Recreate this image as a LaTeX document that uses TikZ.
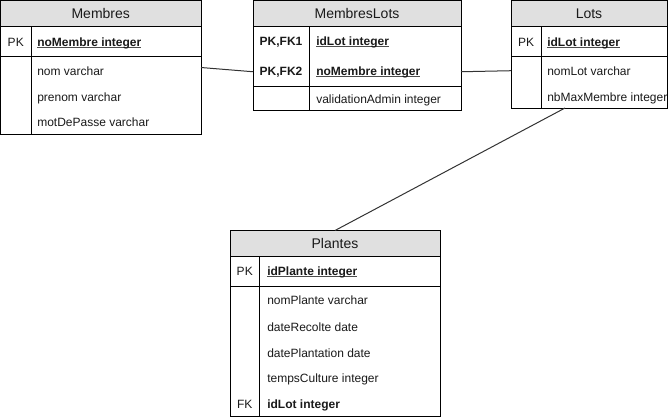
\documentclass[tikz,border=0pt]{standalone}
\usepackage{fontspec}
\setmainfont{Liberation Sans}
\definecolor{hdrgray}{HTML}{E0E0E0}
\definecolor{txt}{HTML}{1A1A1A}
\newcommand\ulx[1]{\setbox0\hbox{#1}\rlap{\color{black!70}\rule[-1.7pt]{\wd0}{0.6pt}}\box0}
\begin{document}
\begin{tikzpicture}[x=0.75pt,y=-0.75pt,
 tbl/.style={draw=black, line width=0.75pt, inner sep=0pt, outer sep=0pt, anchor=north west, fill=white},
 hdr/.style={draw=black, line width=0.75pt, fill=hdrgray, inner sep=0pt, outer sep=0pt, anchor=north west, font=\fontsize{10.5pt}{12pt}\selectfont, text=txt},
 row/.style={anchor=base west, inner sep=0pt, font=\fontsize{9pt}{11pt}\selectfont, text=txt},
 key/.style={anchor=base, inner sep=0pt, font=\fontsize{9pt}{11pt}\selectfont, text=txt},
 sep/.style={line width=0.75pt, draw=black},
 link/.style={line width=0.75pt, draw=black!80}]
\useasboundingbox (0,0) rectangle (671,419);

% ---------- Membres ----------
\node[tbl, minimum width=200.5*0.75pt, minimum height=134*0.75pt] (membres) at (0.5,0.5) {};
\node[hdr, minimum width=200.5*0.75pt, minimum height=26*0.75pt] (membresH) at (0.5,0.5) {Membres};
\draw[sep] (0.5,56.5) -- (201,56.5);
\draw[sep] (31,26.5) -- (31,134.5);
\node[key] (mk1) at (15.75,46) {PK};
\node[row] (mr0) at (37,46) {\ulx{\textbf{noMembre integer}}};
\node[row] (mr1) at (37,75) {nom varchar};
\node[row] (mr2) at (37,101) {prenom varchar};
\node[row] (mr3) at (37,126) {motDePasse varchar};

% ---------- MembresLots ----------
\node[tbl, minimum width=208*0.75pt, minimum height=110*0.75pt] (ml) at (253,0.5) {};
\node[hdr, minimum width=208*0.75pt, minimum height=26*0.75pt] (mlH) at (253,0.5) {MembresLots};
\draw[sep] (253,86.5) -- (461,86.5);
\draw[sep] (309,26.5) -- (309,110.5);
\node[key] (mlk1) at (281,45) {\textbf{PK,FK1}};
\node[key] (mlk2) at (281,75) {\textbf{PK,FK2}};
\node[row] (mlr1) at (316,45) {\ulx{\textbf{idLot integer}}};
\node[row] (mlr2) at (316,75) {\ulx{\textbf{noMembre integer}}};
\node[row] (mlr3) at (316,103) {validationAdmin integer};

% ---------- Lots ----------
\node[tbl, minimum width=156*0.75pt, minimum height=107.5*0.75pt] (lots) at (511,0.5) {};
\node[hdr, minimum width=156*0.75pt, minimum height=26*0.75pt] (lotsH) at (511,0.5) {Lots};
\draw[sep] (511,56.5) -- (667,56.5);
\draw[sep] (541,26.5) -- (541,108);
\node[key] (lk1) at (526,46) {PK};
\node[row] (lr0) at (547,46) {\ulx{\textbf{idLot integer}}};
\node[row] (lr1) at (547,75) {nomLot varchar};
\node[row] (lr2) at (547,101) {nbMaxMembre integer};

% ---------- Plantes ----------
\node[tbl, minimum width=210*0.75pt, minimum height=186*0.75pt] (pl) at (230,230.5) {};
\node[hdr, minimum width=210*0.75pt, minimum height=26*0.75pt] (plH) at (230,230.5) {Plantes};
\draw[sep] (230,286.5) -- (440,286.5);
\draw[sep] (259.5,256.5) -- (259.5,416.5);
\node[key] (pk1) at (244.75,275) {PK};
\node[key] (pk2) at (244.75,408) {FK};
\node[row] (pr0) at (267,275) {\ulx{\textbf{idPlante integer}}};
\node[row] (pr1) at (267,304) {nomPlante varchar};
\node[row] (pr2) at (267,331) {dateRecolte date};
\node[row] (pr3) at (267,357) {datePlantation date};
\node[row] (pr4) at (267,382) {tempsCulture integer};
\node[row] (pr5) at (267,408) {\textbf{idLot integer}};

% ---------- connectors ----------
\draw[link] (membres.east) -- (ml.west |- mlk2.center);
\draw[link] (ml.east |- mlk2.center) -- (lots.west |- lr1.center);
\draw[link] ([xshift=40.5pt]lots.south west) -- (plH.north);
\end{tikzpicture}
\end{document}
